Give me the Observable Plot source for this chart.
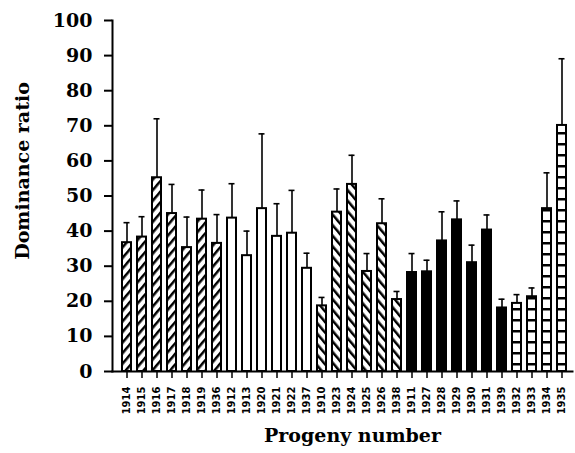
<!DOCTYPE html>
<html><head><meta charset="utf-8">
<script src="https://cdn.jsdelivr.net/npm/d3@7"></script>
<script src="https://cdn.jsdelivr.net/npm/@observablehq/plot@0.6"></script>
<style>body{margin:0;background:#fff}</style>
</head><body><div id="chart"></div>
<script>
const categories = ["1914","1915","1916","1917","1918","1919","1936","1912","1913","1920","1921","1922","1937","1910","1923","1924","1925","1926","1938","1911","1927","1928","1929","1930","1931","1939","1932","1933","1934","1935"];
const means = [36.7, 38.3, 55.2, 45.0, 35.3, 43.4, 36.5, 43.7, 33.0, 46.4, 38.5, 39.4, 29.4, 18.7, 45.4, 53.3, 28.5, 42.1, 20.5, 28.2, 28.4, 37.2, 43.2, 31.0, 40.3, 18.1, 19.4, 21.3, 46.4, 70.1];
const upper = [42.4, 44.1, 72.0, 53.3, 44.0, 51.7, 44.7, 53.5, 40.0, 67.7, 47.8, 51.6, 33.7, 21.1, 52.0, 61.6, 33.6, 49.2, 22.8, 33.6, 31.7, 45.5, 48.6, 36.0, 44.6, 20.6, 21.9, 23.8, 56.6, 89.1];
const groups = ["diagonal","diagonal","diagonal","diagonal","diagonal","diagonal","diagonal",
  "open","open","open","open","open","open",
  "reverse","reverse","reverse","reverse","reverse","reverse",
  "solid","solid","solid","solid","solid","solid","solid",
  "grid","grid","grid","grid"];
const groupNames = ["diagonal","open","reverse","solid","grid"];
const groupFills = ["url(#pat-diag)","white","url(#pat-rev)","black","url(#pat-grid)"];
const yTicks = [0,10,20,30,40,50,60,70,80,90,100];

const data = categories.map((c, i) => ({progeny: c, mean: means[i], upper: upper[i], group: groups[i]}));

const serif = "'DejaVu Serif', 'Liberation Serif', serif";
const svg = Plot.plot({
  width: 575, height: 453,
  marginTop: 20, marginBottom: 82, marginLeft: 112, marginRight: 3,
  style: {background: "white", color: "black"},
  x: {domain: categories, paddingInner: 0.25, paddingOuter: 0, insetLeft: 7, insetRight: 3, label: null},
  y: {domain: [0, 100], label: null},
  color: {type: "ordinal", domain: groupNames, range: groupFills},
  marks: [
    Plot.ruleX(data, {x: "progeny", y1: "mean", y2: "upper", strokeWidth: 1.6}),
    Plot.tickY(data, {x: "progeny", y: "upper", strokeWidth: 1.6, insetLeft: 2.5, insetRight: 2.5}),
    Plot.barY(data, {x: "progeny", y: "mean", fill: d => d.group, stroke: "black", strokeWidth: 2, insetLeft: 1, insetRight: 1}),
    Plot.frame({anchor: "left", strokeWidth: 2}),
    Plot.frame({anchor: "bottom", strokeWidth: 2}),
    Plot.axisY({ticks: yTicks, tickSize: 8, tickPadding: 12, fontSize: 19, fontWeight: "bold", fontFamily: serif, tickFormat: d => String(d), strokeWidth: 2, label: null}),
    Plot.axisX({tickRotate: -90, tickSize: 7, tickPadding: 8, fontSize: 10, fontWeight: "bold", fontFamily: "'DejaVu Sans', sans-serif", strokeWidth: 1.5, label: null}),
    Plot.text(["Dominance ratio"], {text: d => d, frameAnchor: "left", textAnchor: "middle", dx: -90, dy: -25, rotate: -90, fontSize: 19, fontWeight: "bold", fontFamily: serif}),
    Plot.text(["Progeny number"], {text: d => d, frameAnchor: "bottom", textAnchor: "middle", dx: 10, dy: 70, fontSize: 19, fontWeight: "bold", fontFamily: serif})
  ]
});

const defs = d3.select(svg).insert("defs", ":first-child");
function hatch(id, angle) {
  const p = defs.append("pattern").attr("id", id).attr("patternUnits", "userSpaceOnUse")
    .attr("width", 6.8).attr("height", 6.8).attr("patternTransform", `rotate(${angle})`);
  p.append("rect").attr("width", 6.8).attr("height", 6.8).attr("fill", "white");
  p.append("rect").attr("width", 2.5).attr("height", 6.8).attr("fill", "black");
}
hatch("pat-diag", 40);
hatch("pat-rev", -40);
const g = defs.append("pattern").attr("id", "pat-grid").attr("patternUnits", "userSpaceOnUse")
  .attr("width", 10).attr("height", 11);
g.append("rect").attr("width", 10).attr("height", 11).attr("fill", "white");
g.append("rect").attr("width", 10).attr("height", 2.5).attr("fill", "black");

document.getElementById("chart").appendChild(svg);
</script>
</body></html>
